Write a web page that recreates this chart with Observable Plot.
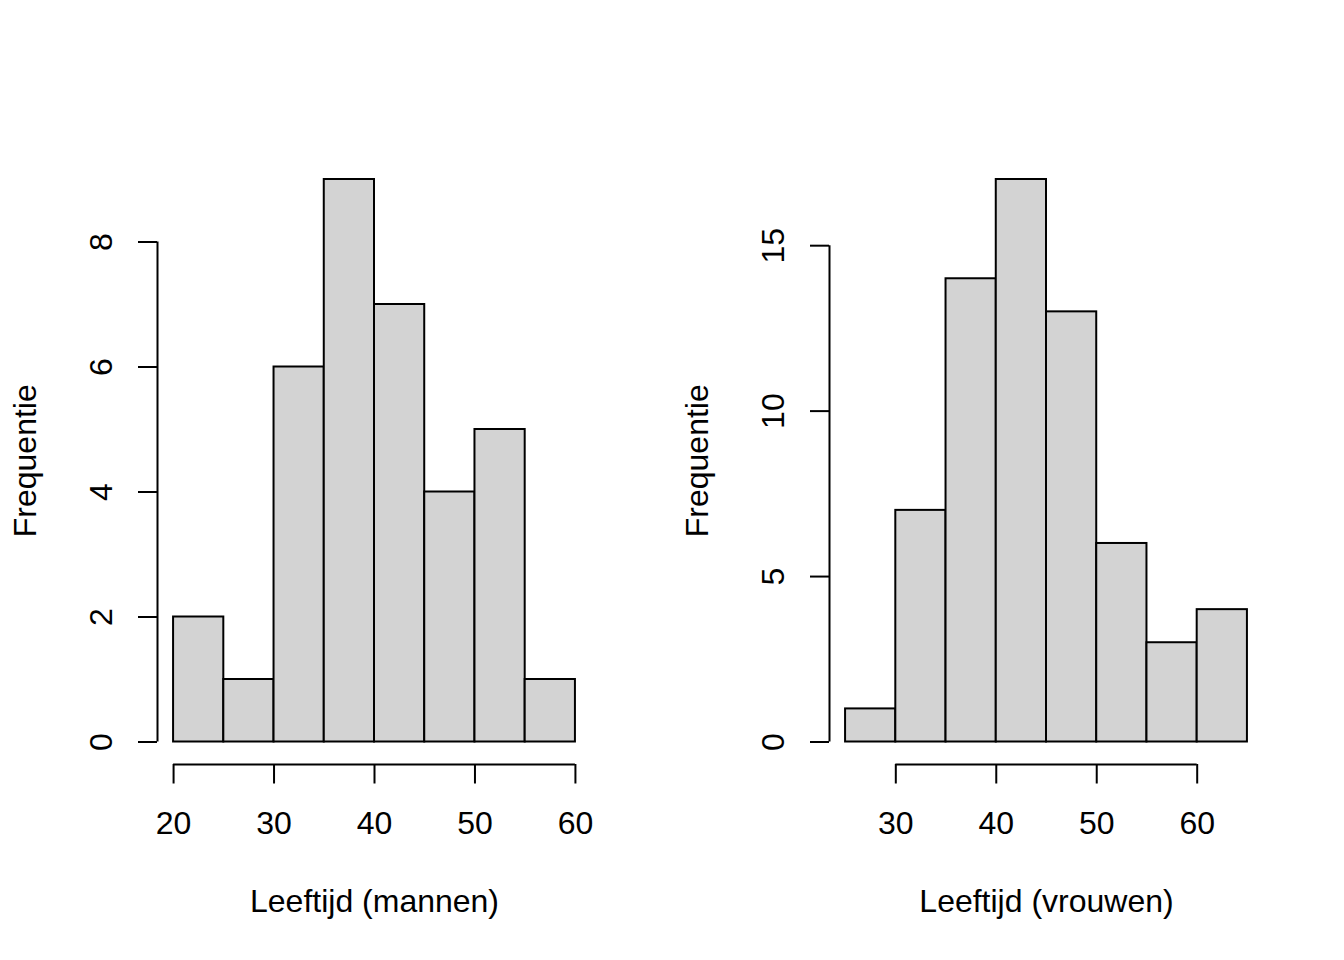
<!DOCTYPE html>
<html>
<head>
<meta charset="utf-8">
<script src="https://cdn.jsdelivr.net/npm/d3@7"></script>
<script src="https://cdn.jsdelivr.net/npm/@observablehq/plot@0.6"></script>
<style>
  html, body { margin: 0; padding: 0; background: #fff; }
  #wrap { display: flex; width: 1344px; height: 960px; }
  #wrap svg { display: block; }
</style>
</head>
<body>
<div id="wrap"></div>
<script>
// ---- data ----
const menBreaks = [20, 25, 30, 35, 40, 45, 50, 55, 60];
const menCounts = [2, 1, 6, 9, 7, 4, 5, 1];
const menXTicks = [20, 30, 40, 50, 60];
const menYTicks = [0, 2, 4, 6, 8];

const womenBreaks = [25, 30, 35, 40, 45, 50, 55, 60, 65];
const womenCounts = [1, 7, 14, 17, 13, 6, 3, 4];
const womenXTicks = [30, 40, 50, 60];
const womenYTicks = [0, 5, 10, 15];

const yLabel = "Frequentie";
const menXLabel = "Leeftijd (mannen)";
const womenXLabel = "Leeftijd (vrouwen)";

const FONT = "'Liberation Sans', Arial, Helvetica, sans-serif";

function hist(breaks, counts, xTicks, yTicks, xLabel) {
  const bins = counts.map((c, i) => ({x1: breaks[i], x2: breaks[i + 1], n: c}));
  const xmin = breaks[0], xmax = breaks[breaks.length - 1];
  const ymax = d3.max(counts);
  const xpad = 0.04 * (xmax - xmin), ypad = 0.04 * ymax;
  const xlo = xmin - xpad, ylo = -ypad;
  return Plot.plot({
    width: 672,
    height: 960,
    marginLeft: 157,
    marginRight: 81,
    marginTop: 156.5,
    marginBottom: 196,
    style: {fontFamily: FONT, fontSize: "32px", color: "black", background: "white"},
    x: {domain: [xlo, xmax + xpad], axis: null},
    y: {domain: [ylo, ymax + ypad], axis: null},
    marks: [
      Plot.rectY(bins, {x1: "x1", x2: "x2", y: "n", fill: "#d3d3d3", stroke: "black", strokeWidth: 2}),
      // x axis
      Plot.ruleY([ylo], {x1: xTicks[0], x2: xTicks[xTicks.length - 1], stroke: "black", strokeWidth: 2}),
      Plot.axisX({anchor: "bottom", ticks: xTicks, tickSize: 19.5, tickFormat: () => "", label: null, stroke: "black", strokeWidth: 2}),
      Plot.text(xTicks, {x: d => d, frameAnchor: "bottom", dy: 69, lineAnchor: "bottom", textAnchor: "middle", fontSize: 32, fill: "black", text: d => String(d)}),
      Plot.text([xLabel], {frameAnchor: "bottom", dy: 147, lineAnchor: "bottom", textAnchor: "middle", fontSize: 32, fill: "black", text: d => d}),
      // y axis
      Plot.ruleX([xlo], {y1: yTicks[0], y2: yTicks[yTicks.length - 1], stroke: "black", strokeWidth: 2}),
      Plot.axisY({anchor: "left", ticks: yTicks, tickSize: 19, tickFormat: () => "", label: null, stroke: "black", strokeWidth: 2}),
      Plot.text(yTicks, {y: d => d, frameAnchor: "left", dx: -46, rotate: -90, lineAnchor: "bottom", textAnchor: "middle", fontSize: 32, fill: "black", text: d => String(d)}),
      Plot.text([yLabel], {frameAnchor: "left", dx: -122, rotate: -90, lineAnchor: "bottom", textAnchor: "middle", fontSize: 32, fill: "black", text: d => d})
    ]
  });
}

const wrap = document.getElementById("wrap");
wrap.appendChild(hist(menBreaks, menCounts, menXTicks, menYTicks, menXLabel));
wrap.appendChild(hist(womenBreaks, womenCounts, womenXTicks, womenYTicks, womenXLabel));
</script>
</body>
</html>
